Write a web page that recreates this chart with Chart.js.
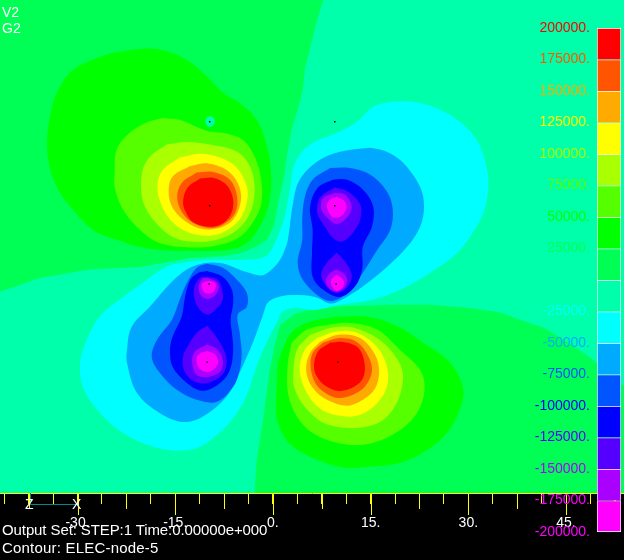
<!DOCTYPE html>
<html>
<head>
<meta charset="utf-8">
<title>ELEC-node-5</title>
<script src="https://cdn.jsdelivr.net/npm/chart.js@4"></script>
<style>
    html, body { margin: 0; padding: 0; background: #000; }
    #wrap { position: relative; width: 624px; height: 560px; overflow: hidden; }
    canvas { position: absolute; left: 0; top: 0; display: block; }
    #colorBar { left: 500px; }
    .txt { position: absolute; color: #fff; font: 14px "Liberation Sans"; line-height: 14px; white-space: pre; }
    .foot { font-size: 15px; }
    #triadLine { position: absolute; left: 30px; top: 504px; width: 46px; height: 1px; background: #008b8b; }
    #triadStem { position: absolute; left: 30px; top: 493px; width: 1px; height: 11px; background: #008b8b; }
</style>
</head>
<body>
<div id="wrap">
    <canvas id="contour" width="624" height="560"></canvas>
    <canvas id="colorBar" width="124" height="560"></canvas>
    <div class="txt" style="left:2px;top:5px">V2</div>
    <div class="txt" style="left:2px;top:21px">G2</div>
    <div id="triadStem"></div>
    <div id="triadLine"></div>
    <div class="txt" style="left:25px;top:497px">Z</div>
    <div class="txt" style="left:72px;top:497px">X</div>
    <div class="txt foot" style="left:2px;top:523px;letter-spacing:-0.1px">Output Set: STEP:1 Time:0.00000e+000</div>
    <div class="txt foot" style="left:2px;top:541px;letter-spacing:0.2px">Contour: ELEC-node-5</div>
</div>
<script>
// contour levels of the colour bar, top to bottom
const levels = [200000, 175000, 150000, 125000, 100000, 75000, 50000, 25000, 0,
    -25000, -50000, -75000, -100000, -125000, -150000, -175000, -200000];
const bandColors = ["#ff0000", "#ff5500", "#ffaa00", "#ffff00", "#aaff00", "#55ff00", "#00ff00", "#00ff55",
    "#00ffaa", "#00ffff", "#00aaff", "#0055ff", "#0000ff", "#5500ff", "#aa00ff", "#ff00ff"];

// model limits
const xMin = -41.9, xMax = 53.9, yMin = -32.2, yMax = 43.5;

// isolines, model units [x, y]
const pos25Upper = [[7.7,43.5],[6.6,39.7],[4.9,32.8],[4.6,29.7],[3.8,26.7],[2.9,23.6],[2.3,20.5],[1.7,16.2],[0.9,12.8],[0.2,9.0],[-0.9,6.7],[-2.3,5.8],[-4.3,4.8],[-7.4,4.2],[-12.7,3.9],[-16.9,3.1],[-20.4,2.5],[-28.1,2.1],[-35.8,0.8],[-41.9,-1.3],[-41.9,43.5]];
const pos50Upper = [[-25.0,35.3],[-21.2,35.9],[-17.4,35.9],[-13.2,34.3],[-10.1,31.7],[-7.7,29.3],[-5.1,27.7],[-2.5,25.1],[-0.9,21.0],[-0.3,17.4],[-0.5,12.8],[-1.7,9.3],[-4.0,6.2],[-7.1,5.1],[-12.7,5.0],[-15.4,5.0],[-20.0,5.5],[-24.0,6.7],[-27.6,8.2],[-30.7,11.3],[-33.0,14.4],[-34.3,17.9],[-34.7,22.0],[-33.9,27.1],[-32.7,30.2],[-30.7,32.8],[-27.8,34.3]];
const nodeHole = [[-9.7,25.7],[-9.1,25.4],[-8.9,24.8],[-9.2,24.2],[-9.8,24.0],[-10.3,24.5],[-10.3,25.3]];
const pos75Upper = [[-16.9,25.4],[-14.3,25.1],[-11.7,24.0],[-9.7,23.3],[-7.1,23.0],[-4.6,22.0],[-3.1,20.0],[-2.0,17.0],[-1.7,12.8],[-2.8,9.8],[-5.1,7.1],[-8.6,5.8],[-12.7,5.5],[-17.4,6.2],[-20.4,8.2],[-23.0,11.3],[-24.3,14.8],[-24.3,17.0],[-24.0,20.5],[-22.0,23.1],[-19.4,24.7]];
const pos100Upper = [[-16.3,21.3],[-13.2,21.7],[-9.7,21.3],[-5.5,20.2],[-3.5,17.9],[-2.8,14.4],[-3.5,10.8],[-5.5,8.2],[-8.6,6.7],[-12.3,6.4],[-15.4,7.1],[-18.4,9.8],[-20.0,12.8],[-20.1,17.0],[-18.9,19.4]];
const pos125Upper = [[-14.3,19.3],[-11.2,19.9],[-8.1,19.3],[-5.5,17.7],[-4.0,14.8],[-4.0,12.4],[-5.1,9.8],[-7.7,7.8],[-10.1,7.3],[-13.2,7.9],[-15.8,9.8],[-17.4,12.8],[-17.7,15.4],[-16.9,17.4]];
const pos150Upper = [[-12.7,18.0],[-10.0,18.4],[-7.1,17.4],[-5.4,15.4],[-4.9,12.8],[-6.1,9.8],[-8.6,8.4],[-11.2,8.4],[-13.8,9.8],[-15.5,11.8],[-16.0,14.1],[-15.4,16.4]];
const pos175Upper = [[-11.7,17.0],[-9.2,17.1],[-6.6,15.9],[-5.5,13.3],[-5.8,10.8],[-7.7,9.0],[-9.7,8.5],[-12.3,9.3],[-14.0,11.0],[-14.7,13.3],[-14.0,15.4]];
const pos200Upper = [[-11.2,16.1],[-9.2,16.2],[-7.1,15.1],[-6.1,12.8],[-6.5,10.5],[-8.1,9.0],[-10.1,8.7],[-12.3,9.4],[-13.4,11.0],[-13.8,12.5],[-13.1,14.7]];

const pos25Lower = [[-2.8,-32.2],[-2.5,-27.1],[-1.5,-21.0],[-0.5,-13.3],[0.3,-9.4],[1.1,-6.4],[3.4,-4.7],[6.8,-3.8],[11.8,-3.5],[18.4,-3.3],[24.1,-3.3],[30.3,-3.8],[34.9,-4.5],[37.9,-5.6],[41.5,-6.8],[45.2,-9.0],[48.7,-11.4],[53.3,-15.3],[53.9,-15.7],[53.9,-32.2]];
const pos50Lower = [[2.2,-8.4],[3.7,-6.8],[6.8,-5.6],[10.8,-5.1],[15.4,-5.3],[19.5,-6.8],[23.0,-9.1],[27.2,-12.2],[29.2,-16.1],[28.7,-19.4],[26.7,-23.0],[23.7,-25.6],[19.5,-27.6],[14.4,-28.2],[10.8,-28.3],[6.8,-27.1],[3.1,-25.1],[1.4,-23.0],[0.5,-19.9],[0.6,-15.9],[0.8,-12.2]];
const pos75Lower = [[2.9,-9.1],[5.2,-7.1],[8.3,-6.4],[11.8,-6.1],[16.0,-7.1],[19.5,-10.2],[22.6,-13.3],[23.3,-15.9],[22.6,-19.0],[20.6,-21.7],[17.5,-23.7],[13.8,-24.8],[9.8,-24.5],[6.1,-23.0],[3.7,-20.5],[2.3,-16.8],[2.3,-12.2]];
const pos100Lower = [[5.7,-7.9],[9.2,-6.8],[12.3,-6.8],[16.4,-8.7],[19.2,-11.8],[20.0,-14.5],[19.0,-18.4],[16.9,-21.0],[14.4,-22.0],[11.4,-22.2],[7.7,-21.4],[4.9,-19.0],[3.4,-16.4],[3.1,-14.4],[3.7,-10.2]];
const pos125Lower = [[6.8,-8.4],[9.8,-7.4],[12.9,-7.6],[16.0,-9.8],[17.5,-12.8],[17.5,-15.9],[16.0,-18.4],[13.4,-20.2],[10.8,-20.4],[7.5,-19.4],[5.2,-16.8],[4.1,-13.3],[4.9,-10.2]];
const pos150Lower = [[7.2,-9.0],[10.0,-7.9],[13.4,-8.4],[15.7,-11.0],[16.3,-13.6],[15.7,-16.1],[13.8,-17.9],[11.4,-18.8],[8.3,-17.9],[6.0,-15.9],[5.1,-13.3],[5.7,-10.7]];
const pos175Lower = [[7.7,-9.1],[10.3,-8.4],[12.9,-9.0],[14.7,-11.3],[15.2,-13.6],[14.1,-15.9],[12.3,-17.1],[10.0,-17.6],[8.0,-16.8],[6.5,-15.3],[5.8,-12.8],[6.1,-10.7]];
const pos200Lower = [[8.8,-9.1],[10.8,-9.0],[13.1,-9.9],[14.1,-12.5],[13.7,-14.8],[11.8,-16.2],[9.8,-16.5],[8.0,-15.7],[6.8,-14.4],[6.3,-12.8],[6.9,-10.5]];

const neg25 = [[18.4,27.9],[21.0,27.9],[24.6,27.1],[28.3,25.1],[31.3,22.0],[32.9,17.4],[33.0,13.9],[32.3,10.8],[30.7,7.8],[28.3,4.7],[24.1,1.6],[19.5,-1.0],[15.4,-2.5],[10.3,-3.3],[6.5,-4.1],[3.4,-3.8],[1.4,-4.4],[0.8,-5.6],[-0.8,-8.7],[-2.3,-12.2],[-4.0,-17.1],[-5.4,-19.7],[-7.7,-22.5],[-11.2,-25.1],[-14.3,-25.7],[-18.4,-25.1],[-23.0,-23.0],[-27.0,-19.4],[-29.2,-15.9],[-29.6,-12.2],[-28.6,-8.7],[-26.6,-5.1],[-23.0,-2.1],[-19.4,0.5],[-16.6,2.4],[-14.3,3.1],[-9.2,3.6],[-4.3,3.6],[-1.2,4.1],[0.3,6.2],[1.8,10.2],[2.6,14.4],[3.4,18.5],[5.7,21.3],[10.3,23.3],[12.9,24.8],[15.4,27.1]];
const neg50 = [[14.9,20.8],[17.5,20.2],[20.0,18.5],[22.6,14.8],[23.2,11.8],[22.6,8.7],[20.6,5.6],[17.5,2.5],[13.8,-0.5],[10.8,-2.4],[8.8,-3.1],[6.5,-2.1],[3.4,-1.8],[0.8,-2.1],[-0.8,-3.0],[-1.5,-4.8],[-2.5,-7.6],[-3.2,-9.4],[-5.1,-13.7],[-7.1,-17.4],[-10.8,-20.5],[-13.8,-21.3],[-17.4,-19.9],[-20.9,-16.8],[-22.4,-12.2],[-22.4,-10.2],[-21.7,-6.7],[-18.9,-3.6],[-14.7,1.0],[-11.7,2.8],[-8.1,3.1],[-4.3,1.8],[-1.7,1.2],[-0.2,2.1],[1.1,3.6],[1.8,5.1],[2.3,6.7],[3.1,12.4],[4.1,15.9],[6.8,18.7],[10.3,20.2]];
const neg75Upper = [[8.8,17.7],[11.8,17.7],[14.9,16.7],[17.5,14.1],[18.4,11.3],[18.0,8.2],[16.0,5.1],[13.4,1.0],[11.4,-1.5],[9.2,-2.7],[7.2,-2.1],[4.6,0.5],[3.8,3.1],[4.5,6.7],[4.5,9.8],[4.9,13.3],[6.1,15.9]];
const neg100Upper = [[9.2,15.9],[11.4,15.9],[13.8,14.4],[15.4,11.8],[15.2,8.7],[13.8,5.6],[13.7,2.1],[12.6,-0.5],[10.3,-2.1],[7.7,-1.0],[6.1,1.0],[6.0,4.7],[6.1,8.2],[5.7,11.8],[6.9,14.7]];
const neg125A = [[9.5,14.7],[11.5,14.1],[13.4,12.1],[13.4,9.8],[12.3,7.8],[10.6,6.4],[9.2,7.0],[8.0,8.7],[6.8,10.8],[7.2,13.1]];
const neg150A = [[9.5,13.9],[11.1,13.6],[12.1,11.8],[11.4,10.1],[9.8,9.1],[8.3,10.1],[7.4,11.4],[7.7,13.1]];
const neg175A = [[9.8,13.3],[11.1,12.5],[11.2,11.3],[10.3,10.2],[9.1,10.2],[8.3,11.6],[8.6,12.7]];
const neg125B = [[9.8,4.7],[11.1,3.3],[12.1,1.3],[11.5,-0.5],[10.0,-1.5],[8.4,-0.7],[7.4,1.3],[8.4,3.3]];
const neg150B = [[9.8,2.1],[11.1,1.3],[11.4,0.1],[10.6,-1.0],[9.5,-1.3],[8.4,-0.5],[8.1,0.5],[8.8,1.6]];
const neg175B = [[9.8,1.3],[10.8,0.5],[10.8,-0.5],[9.8,-1.2],[9.1,-0.5],[8.9,0.5]];

const neg75Lower = [[-10.1,3.0],[-7.7,2.4],[-5.5,0.5],[-4.0,-1.5],[-4.0,-3.6],[-5.4,-4.8],[-5.1,-7.6],[-4.8,-10.7],[-5.1,-13.3],[-6.1,-15.9],[-8.6,-18.2],[-11.7,-17.9],[-14.7,-16.4],[-17.4,-13.7],[-18.6,-11.3],[-17.8,-8.7],[-15.5,-5.6],[-14.3,-2.5],[-13.2,0.1],[-11.7,2.4]];
const neg100Lower = [[-10.1,1.9],[-7.7,1.0],[-6.3,-1.0],[-6.1,-3.0],[-6.5,-5.6],[-6.3,-7.6],[-6.1,-10.2],[-6.6,-13.3],[-8.1,-15.3],[-10.8,-16.5],[-13.2,-15.3],[-15.4,-12.8],[-15.8,-10.2],[-15.4,-8.2],[-14.0,-5.1],[-13.5,-2.1],[-12.7,0.5],[-11.5,1.6]];
const neg125C = [[-10.0,1.0],[-8.4,0.5],[-7.7,-1.5],[-7.8,-2.8],[-9.2,-4.4],[-10.1,-4.8],[-11.2,-4.1],[-12.0,-2.5],[-12.1,-0.7],[-11.2,0.8]];
const neg150C = [[-10.0,0.8],[-8.6,0.2],[-8.3,-0.7],[-8.9,-1.9],[-10.1,-2.4],[-11.1,-1.8],[-11.4,-0.5],[-10.8,0.7]];
const neg175C = [[-9.8,0.4],[-8.9,0.1],[-8.8,-0.7],[-9.4,-1.5],[-10.4,-1.5],[-10.9,-0.7],[-10.8,0.1]];
const neg125D = [[-10.1,-6.5],[-8.9,-7.9],[-7.4,-10.5],[-7.1,-12.2],[-7.8,-14.1],[-10.0,-15.3],[-12.0,-15.1],[-13.5,-13.7],[-13.8,-11.3],[-12.7,-9.0],[-11.5,-7.4]];
const neg150D = [[-10.1,-9.4],[-8.6,-10.1],[-7.7,-11.8],[-8.1,-13.6],[-10.0,-14.4],[-11.7,-14.1],[-12.4,-12.2],[-12.0,-10.5]];
const neg175D = [[-10.0,-10.4],[-8.8,-11.0],[-8.4,-12.2],[-9.2,-13.3],[-10.4,-13.6],[-11.5,-12.8],[-11.7,-11.4],[-11.1,-10.7]];

// mesh nodes shown as dots
const nodes = [[-9.7,11.9],[-9.7,24.8],[-9.8,-0.1],[9.5,24.8],[9.5,11.9],[9.7,-0.1],[-10.1,-12.1],[10.0,-12.1]];
const plotBounds = [[xMin,yMin],[xMax,yMin],[xMax,yMax],[xMin,yMax]];

// painted back to front, second value is the index in bandColors
const layers = [
    [plotBounds, 8], [pos25Upper, 7], [pos25Lower, 7],
    [pos50Upper, 6], [nodeHole, 8], [pos75Upper, 5], [pos100Upper, 4], [pos125Upper, 3], [pos150Upper, 2], [pos175Upper, 1], [pos200Upper, 0],
    [pos50Lower, 6], [pos75Lower, 5], [pos100Lower, 4], [pos125Lower, 3], [pos150Lower, 2], [pos175Lower, 1], [pos200Lower, 0],
    [neg25, 9], [neg50, 10],
    [neg75Upper, 11], [neg100Upper, 12], [neg125A, 13], [neg150A, 14], [neg175A, 15], [neg125B, 13], [neg150B, 14], [neg175B, 15],
    [neg75Lower, 11], [neg100Lower, 12], [neg125C, 13], [neg150C, 14], [neg175C, 15], [neg125D, 13], [neg150D, 14], [neg175D, 15]
];
// these run into the plot edge and keep their corners
const openLayers = [plotBounds, pos25Upper, pos25Lower];

function toPoints(list) {
    let pts = list.map(p => ({ x: p[0], y: p[1] }));
    pts.push(pts[0]);
    return pts;
}

function isStep(v, step) {
    return Math.abs(v / step - Math.round(v / step)) < 1e-6;
}

let datasets = layers.map((layer, i) => ({
    data: toPoints(layer[0]),
    showLine: true,
    fill: 'shape',
    tension: openLayers.includes(layer[0]) ? 0 : 0.35,
    backgroundColor: bandColors[layer[1]],
    borderWidth: 0,
    pointRadius: 0,
    order: layers.length - i + 2
}));
datasets.push({
    data: nodes.map(p => ({ x: p[0], y: p[1] })),
    pointStyle: 'rect',
    pointRadius: 1,
    pointBorderWidth: 0,
    pointBackgroundColor: '#000',
    order: 0
});

// the axis has one tick length, the 7.5 and 15 ticks get stretched here
const longTicks = {
    id: 'longTicks',
    afterDraw(chart) {
        let ctx = chart.ctx, scale = chart.scales.x;
        ctx.save();
        ctx.strokeStyle = '#ffff00';
        ctx.lineWidth = 1;
        scale.ticks.forEach(t => {
            let len = isStep(t.value, 15) ? 22 : (isStep(t.value, 7.5) ? 16 : 0);
            if (!len) return;
            let px = Math.round(scale.getPixelForValue(t.value)) + 0.5;
            ctx.beginPath();
            ctx.moveTo(px, chart.chartArea.bottom);
            ctx.lineTo(px, chart.chartArea.bottom + len);
            ctx.stroke();
        });
        ctx.restore();
    }
};

new Chart(document.getElementById('contour'), {
    type: 'scatter',
    data: { datasets: datasets },
    plugins: [longTicks],
    options: {
        responsive: false,
        animation: false,
        layout: { padding: 0, autoPadding: false },
        plugins: { legend: { display: false }, tooltip: { enabled: false } },
        scales: {
            x: {
                min: xMin,
                max: xMax,
                z: 1,
                afterFit: scale => {
                    scale.height = 67;
                    scale.paddingLeft = 0;
                    scale.paddingRight = 0;
                },
                border: { color: '#ffff00', width: 1 },
                grid: { drawOnChartArea: false, tickLength: 11, tickColor: '#ffff00', tickWidth: 1 },
                ticks: {
                    stepSize: 3.75,
                    includeBounds: false,
                    autoSkip: false,
                    maxRotation: 0,
                    padding: 11,
                    color: '#fff',
                    font: { family: 'Liberation Sans', size: 14 },
                    callback: v => isStep(v, 15) ? v + '.' : ''
                }
            },
            y: { display: false, min: yMin, max: yMax }
        }
    }
});

// colour bar
let barSets = bandColors.map((c, i) => ({
    data: [[levels[i + 1], levels[i]]],
    backgroundColor: c,
    borderColor: '#fff',
    borderWidth: { left: 1, right: 1, top: 1, bottom: i == bandColors.length - 1 ? 1 : 0 },
    borderSkipped: false,
    grouped: false,
    barPercentage: 1,
    categoryPercentage: 1
}));

function labelColor(v) {
    let i = levels.indexOf(v);
    return bandColors[Math.min(i, bandColors.length - 1)];
}

new Chart(document.getElementById('colorBar'), {
    type: 'bar',
    data: { labels: [''], datasets: barSets },
    options: {
        responsive: false,
        animation: false,
        layout: { padding: { top: 28, bottom: 28, right: 3, left: 0 }, autoPadding: false },
        plugins: { legend: { display: false }, tooltip: { enabled: false } },
        scales: {
            x: { display: false },
            y: {
                min: -200000,
                max: 200000,
                afterFit: scale => { scale.width = 97; },
                border: { display: false },
                grid: { display: false, drawTicks: false },
                ticks: {
                    stepSize: 25000,
                    autoSkip: false,
                    padding: 7,
                    font: { family: 'Liberation Sans', size: 14 },
                    color: ctx => labelColor(ctx.tick.value),
                    callback: v => v == 0 ? '' : v + '.'
                }
            }
        }
    }
});
</script>
</body>
</html>
